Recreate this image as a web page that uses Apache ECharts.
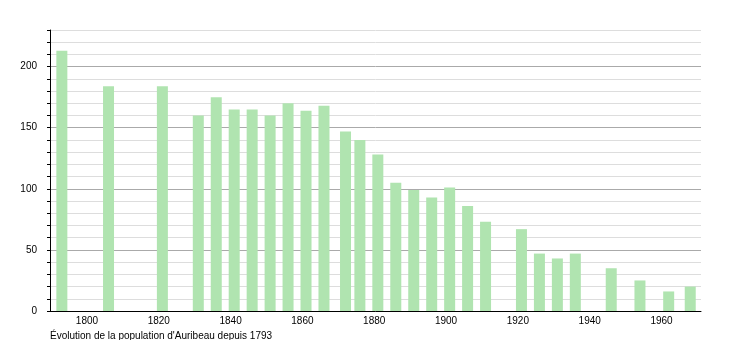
<!DOCTYPE html>
<html>
<head>
<meta charset="utf-8">
<script src="https://cdn.jsdelivr.net/npm/echarts@6/dist/echarts.min.js"></script>
<style>
html,body{margin:0;padding:0;background:#fff;}
#c{width:750px;height:340px;}
</style>
</head>
<body>
<div id="c"></div>
<script>
const years = [1793,1806,1821,1831,1836,1841,1846,1851,1856,1861,1866,1872,1876,1881,1886,1891,1896,1901,1906,1911,1921,1926,1931,1936,1946,1954,1962,1968];
const population = [213,184,184,160,175,165,165,160,170,164,168,147,140,128,105,99,93,101,86,73,67,47,43,47,35,25,16,20];
const xTickLabels = [1800,1820,1840,1860,1880,1900,1920,1940,1960];
const titleText = "Évolution de la population d'Auribeau depuis 1793";

const chart = echarts.init(document.getElementById('c'), null, {renderer:'canvas'});
const font = 'Liberation Sans, Arial, sans-serif';
chart.setOption({
  animation: false,
  grid: {left: 50, right: 49, top: 30, bottom: 29, containLabel: false},
  title: {
    text: titleText,
    left: 50, top: 331,
    padding: 0,
    textStyle: {fontSize: 10, fontWeight: 'normal', color: '#000', fontFamily: font}
  },
  xAxis: {
    type: 'value', min: 1789.7, max: 1971,
    axisLine: {show: true, lineStyle: {color: '#000', width: 1}},
    axisTick: {show: false},
    splitLine: {show: false},
    axisLabel: {
      fontSize: 10, color: '#000', fontFamily: font, margin: 5,
      customValues: xTickLabels,
      formatter: v => String(v)
    }
  },
  yAxis: {
    type: 'value', min: 0, max: 230, interval: 10,
    axisLine: {show: true, lineStyle: {color: '#000', width: 1}},
    axisTick: {show: true, inside: false, length: 3, lineStyle: {color: '#000'}},
    splitLine: {show: true, lineStyle: {color: ['#aaaaaa','#dddddd','#dddddd','#dddddd','#dddddd'], width: 1}},
    axisLabel: {
      fontSize: 10, color: '#000', fontFamily: font, margin: 13,
      formatter: v => (v % 50 === 0 ? String(v) : '')
    }
  },
  series: [{
    type: 'bar',
    data: years.map((y, i) => [y, population[i]]),
    barWidth: 11,
    itemStyle: {color: '#b0e4b0'}
  }]
});
</script>
</body>
</html>
